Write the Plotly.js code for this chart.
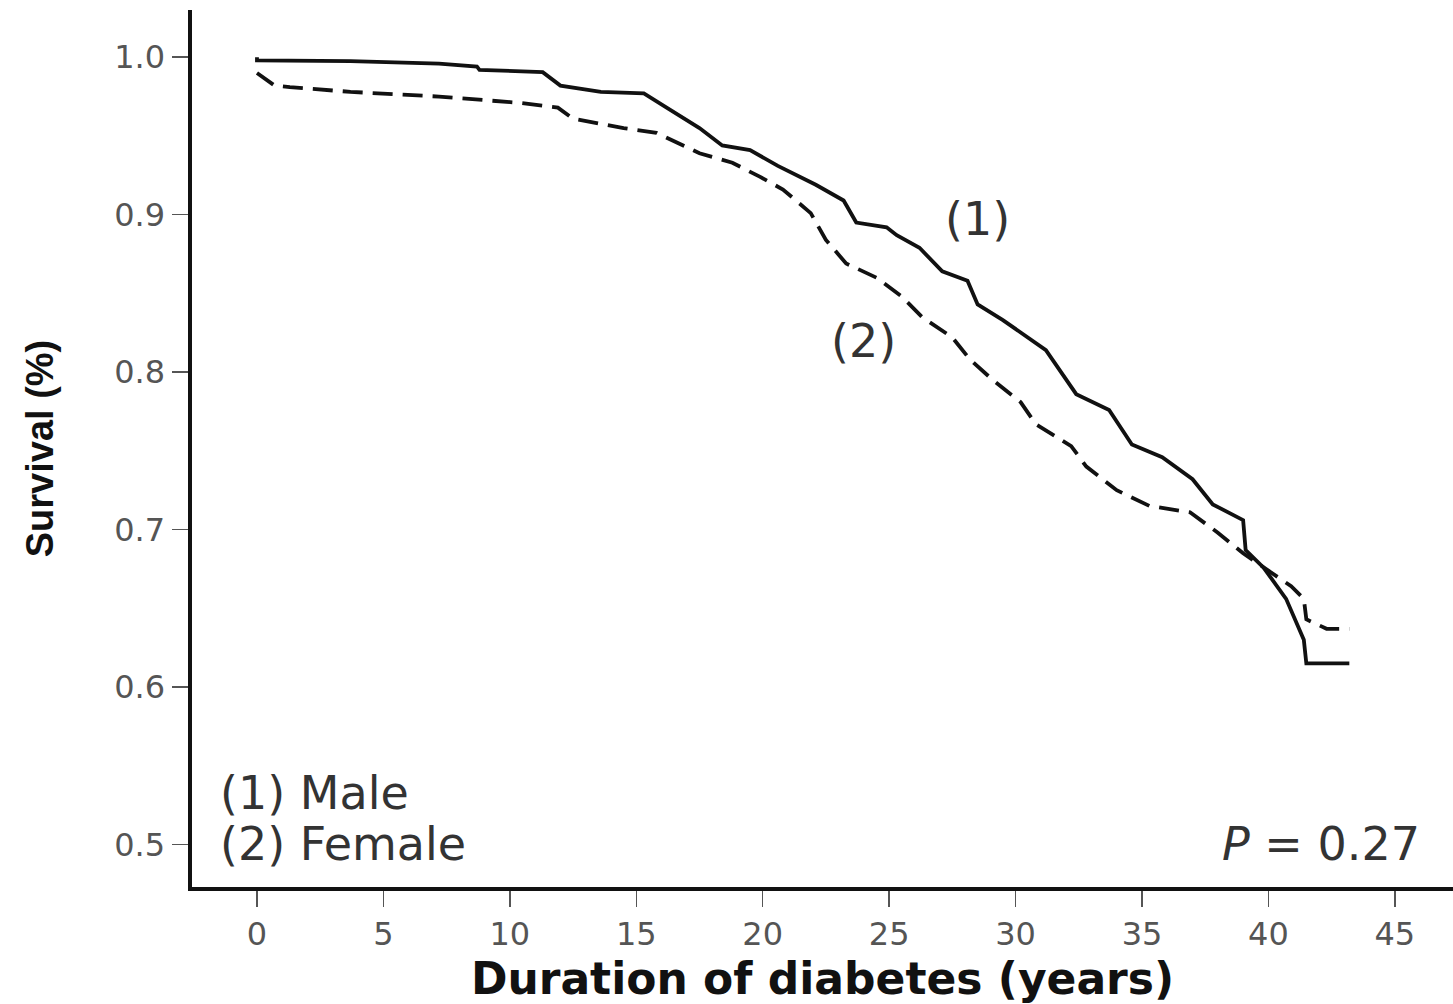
<!DOCTYPE html>
<html>
<head>
<meta charset="utf-8">
<script src="https://cdn.plot.ly/plotly-3.0.1.min.js"></script>
<style>html,body{margin:0;padding:0;background:#fff;}#chart{width:1453px;height:1004px;}</style>
</head>
<body>
<div id="chart"></div>
<script>
// Duration of diabetes (years) and Kaplan-Meier survival
const maleYears = [0, 0, 3.7, 7.2, 8.7, 8.8, 11.3, 12.0, 13.6, 15.3, 16.2, 17.5, 18.4, 19.5, 20.6, 22.1, 23.2, 23.7, 24.9, 25.3, 26.2, 27.1, 28.1, 28.5, 29.5, 31.2, 32.4, 33.7, 34.6, 35.8, 37.0, 37.8, 39.0, 39.1, 39.8, 40.7, 41.4, 41.5, 43.2];
const maleSurvival = [1.0, 0.998, 0.9975, 0.996, 0.994, 0.992, 0.9905, 0.982, 0.978, 0.977, 0.968, 0.955, 0.944, 0.941, 0.931, 0.919, 0.909, 0.895, 0.892, 0.887, 0.879, 0.864, 0.858, 0.843, 0.833, 0.814, 0.786, 0.776, 0.754, 0.746, 0.732, 0.716, 0.706, 0.687, 0.676, 0.656, 0.630, 0.615, 0.615];

const femaleYears = [0, 0.7, 1.3, 3.7, 7.2, 10.4, 11.9, 12.5, 14.5, 15.8, 17.5, 18.8, 19.9, 20.8, 21.9, 22.5, 23.3, 24.5, 25.5, 26.3, 27.5, 28.2, 29.1, 30.2, 30.8, 32.2, 32.8, 34.0, 35.3, 36.9, 38.0, 39.0, 40.9, 41.4, 41.5, 42.3, 43.2];
const femaleSurvival = [0.990, 0.982, 0.981, 0.978, 0.975, 0.971, 0.968, 0.961, 0.955, 0.952, 0.939, 0.933, 0.924, 0.916, 0.901, 0.884, 0.869, 0.860, 0.848, 0.835, 0.822, 0.808, 0.795, 0.781, 0.767, 0.753, 0.740, 0.725, 0.715, 0.711, 0.698, 0.685, 0.664, 0.656, 0.643, 0.637, 0.637];

const xTicks = [0, 5, 10, 15, 20, 25, 30, 35, 40, 45];
const yTicks = [0.5, 0.6, 0.7, 0.8, 0.9, 1.0];
const yTickLabels = ['0.5', '0.6', '0.7', '0.8', '0.9', '1.0'];

const traces = [
  {x: maleYears, y: maleSurvival, type: 'scatter', mode: 'lines', name: '(1) Male',
   line: {color: '#111', width: 3.8, shape: 'linear'}},
  {x: femaleYears, y: femaleSurvival, type: 'scatter', mode: 'lines', name: '(2) Female',
   line: {color: '#111', width: 3.8, dash: '20px,10px', shape: 'linear'}}
];

const labelFont = {family: 'DejaVu Sans, Arial, sans-serif', size: 46, color: '#333'};

const layout = {
  width: 1453, height: 1004,
  margin: {l: 192, r: 0, t: 10, b: 117},
  paper_bgcolor: '#fff', plot_bgcolor: '#fff',
  showlegend: false,
  xaxis: {
    range: [-2.57, 47.3], tickvals: xTicks, ticktext: xTicks.map(String),
    showgrid: false, zeroline: false, showline: true, linecolor: '#111', linewidth: 3.5,
    ticks: 'outside', ticklen: 16, tickwidth: 1.5, tickcolor: '#555',
    tickfont: {family: 'DejaVu Sans, Arial, sans-serif', size: 32, color: '#555'},
    title: {text: 'Duration of diabetes (years)', standoff: 16,
            font: {family: 'DejaVu Sans, Arial, sans-serif', size: 44, color: '#111', weight: 'bold'}}
  },
  yaxis: {
    range: [0.473, 1.03], tickvals: yTicks, ticktext: yTickLabels,
    showgrid: false, zeroline: false, showline: true, linecolor: '#111', linewidth: 4.5,
    ticks: 'outside', ticklen: 16, tickwidth: 1.5, tickcolor: '#555',
    tickfont: {family: 'DejaVu Sans, Arial, sans-serif', size: 32, color: '#555'},
    title: {text: 'Survival (%)', standoff: 50,
            font: {family: 'Liberation Sans, Arial, sans-serif', size: 38, color: '#111', weight: 'bold'}}
  },
  annotations: [
    {text: '(1) Male', x: (218 - 192) / (1453 - 192), y: 0.533, xref: 'paper', yref: 'y', showarrow: false,
     xanchor: 'left', yanchor: 'middle', font: labelFont},
    {text: '(2) Female', x: (218 - 192) / (1453 - 192), y: 0.5, xref: 'paper', yref: 'y', showarrow: false,
     xanchor: 'left', yanchor: 'middle', font: labelFont},
    {text: '<i>P</i> = 0.27', x: (1422 - 192) / (1453 - 192), y: 0.5, xref: 'paper', yref: 'y', showarrow: false,
     xanchor: 'right', yanchor: 'middle', font: labelFont},
    {text: '(1)', x: 28.5, y: 0.897, xref: 'x', yref: 'y', showarrow: false,
     xanchor: 'center', yanchor: 'middle', font: labelFont},
    {text: '(2)', x: 24.0, y: 0.82, xref: 'x', yref: 'y', showarrow: false,
     xanchor: 'center', yanchor: 'middle', font: labelFont}
  ]
};

Plotly.newPlot('chart', traces, layout, {displayModeBar: false, staticPlot: true});
</script>
</body>
</html>
